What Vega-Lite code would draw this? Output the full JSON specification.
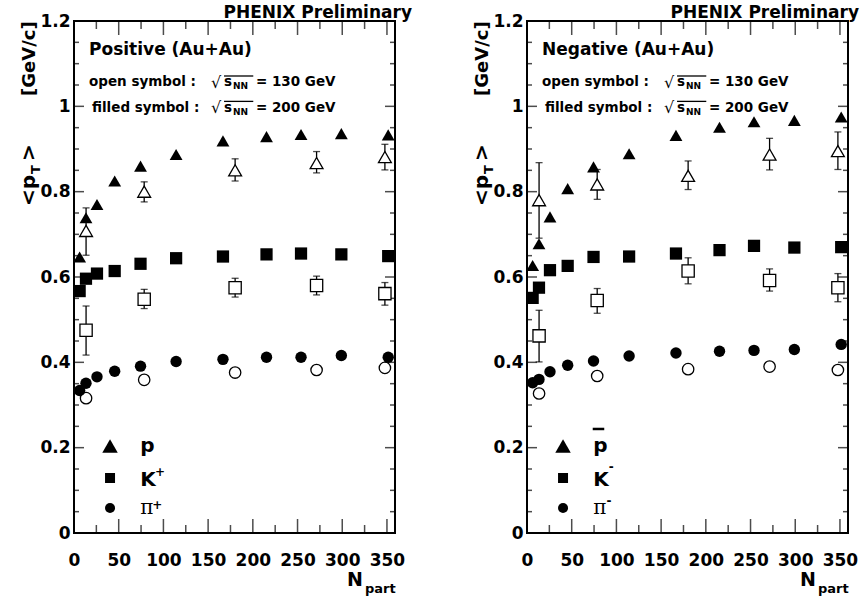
{
  "$schema": "https://vega.github.io/schema/vega-lite/v6.json",
  "padding": {"left": 18, "top": 3, "right": 0, "bottom": 0},
  "autosize": {"type": "pad"},
  "background": "white",
  "config": {
    "view": {"stroke": "black", "strokeWidth": 2},
    "scale": {"continuousPadding": 0},
    "font": "DejaVu Sans",
    "text": {"font": "DejaVu Sans", "fontWeight": "bold", "color": "black"},
    "axis": {"domain": false, "ticks": false, "grid": false, "title": null, "labelOverlap": false, "labelFlush": false, "labelBound": false, "labelColor": "black", "labelFont": "DejaVu Sans", "labelFontWeight": "bold"}
  },
  "datasets": {
    "d": [
      {"c":"pos","s":"p","e":200,"n":6.3,"v":0.647},
      {"c":"pos","s":"p","e":200,"n":13.4,"v":0.739},
      {"c":"pos","s":"p","e":200,"n":25.7,"v":0.770},
      {"c":"pos","s":"p","e":200,"n":45.5,"v":0.825},
      {"c":"pos","s":"p","e":200,"n":74.4,"v":0.860},
      {"c":"pos","s":"p","e":200,"n":114.2,"v":0.887},
      {"c":"pos","s":"p","e":200,"n":166.6,"v":0.919},
      {"c":"pos","s":"p","e":200,"n":215.3,"v":0.929},
      {"c":"pos","s":"p","e":200,"n":253.9,"v":0.934},
      {"c":"pos","s":"p","e":200,"n":299.0,"v":0.936},
      {"c":"pos","s":"p","e":200,"n":351.4,"v":0.933},
      {"c":"pos","s":"K","e":200,"n":6.3,"v":0.567},
      {"c":"pos","s":"K","e":200,"n":13.4,"v":0.596},
      {"c":"pos","s":"K","e":200,"n":25.7,"v":0.608},
      {"c":"pos","s":"K","e":200,"n":45.5,"v":0.614},
      {"c":"pos","s":"K","e":200,"n":74.4,"v":0.631},
      {"c":"pos","s":"K","e":200,"n":114.2,"v":0.644},
      {"c":"pos","s":"K","e":200,"n":166.6,"v":0.648},
      {"c":"pos","s":"K","e":200,"n":215.3,"v":0.653},
      {"c":"pos","s":"K","e":200,"n":253.9,"v":0.655},
      {"c":"pos","s":"K","e":200,"n":299.0,"v":0.653},
      {"c":"pos","s":"K","e":200,"n":351.4,"v":0.649},
      {"c":"pos","s":"pi","e":200,"n":6.3,"v":0.334},
      {"c":"pos","s":"pi","e":200,"n":13.4,"v":0.351},
      {"c":"pos","s":"pi","e":200,"n":25.7,"v":0.366},
      {"c":"pos","s":"pi","e":200,"n":45.5,"v":0.379},
      {"c":"pos","s":"pi","e":200,"n":74.4,"v":0.391},
      {"c":"pos","s":"pi","e":200,"n":114.2,"v":0.402},
      {"c":"pos","s":"pi","e":200,"n":166.6,"v":0.407},
      {"c":"pos","s":"pi","e":200,"n":215.3,"v":0.412},
      {"c":"pos","s":"pi","e":200,"n":253.9,"v":0.412},
      {"c":"pos","s":"pi","e":200,"n":299.0,"v":0.416},
      {"c":"pos","s":"pi","e":200,"n":351.4,"v":0.412},
      {"c":"pos","s":"p","e":130,"n":13.5,"v":0.708,"lo":0.651,"hi":0.762},
      {"c":"pos","s":"p","e":130,"n":78.5,"v":0.800,"lo":0.776,"hi":0.823},
      {"c":"pos","s":"p","e":130,"n":180.2,"v":0.850,"lo":0.825,"hi":0.877},
      {"c":"pos","s":"p","e":130,"n":271.3,"v":0.867,"lo":0.844,"hi":0.894},
      {"c":"pos","s":"p","e":130,"n":347.7,"v":0.881,"lo":0.851,"hi":0.911},
      {"c":"pos","s":"K","e":130,"n":13.5,"v":0.475,"lo":0.417,"hi":0.532},
      {"c":"pos","s":"K","e":130,"n":78.5,"v":0.548,"lo":0.526,"hi":0.571},
      {"c":"pos","s":"K","e":130,"n":180.2,"v":0.575,"lo":0.553,"hi":0.597},
      {"c":"pos","s":"K","e":130,"n":271.3,"v":0.580,"lo":0.558,"hi":0.602},
      {"c":"pos","s":"K","e":130,"n":347.7,"v":0.561,"lo":0.534,"hi":0.587},
      {"c":"pos","s":"pi","e":130,"n":13.5,"v":0.316},
      {"c":"pos","s":"pi","e":130,"n":78.5,"v":0.359},
      {"c":"pos","s":"pi","e":130,"n":180.2,"v":0.376},
      {"c":"pos","s":"pi","e":130,"n":271.3,"v":0.382},
      {"c":"pos","s":"pi","e":130,"n":347.7,"v":0.387},
      {"c":"neg","s":"p","e":200,"n":6.3,"v":0.627},
      {"c":"neg","s":"p","e":200,"n":13.4,"v":0.678},
      {"c":"neg","s":"p","e":200,"n":25.7,"v":0.741},
      {"c":"neg","s":"p","e":200,"n":45.5,"v":0.807},
      {"c":"neg","s":"p","e":200,"n":74.4,"v":0.858},
      {"c":"neg","s":"p","e":200,"n":114.2,"v":0.889},
      {"c":"neg","s":"p","e":200,"n":166.6,"v":0.932},
      {"c":"neg","s":"p","e":200,"n":215.3,"v":0.951},
      {"c":"neg","s":"p","e":200,"n":253.9,"v":0.964},
      {"c":"neg","s":"p","e":200,"n":299.0,"v":0.967},
      {"c":"neg","s":"p","e":200,"n":351.4,"v":0.975},
      {"c":"neg","s":"K","e":200,"n":6.3,"v":0.551},
      {"c":"neg","s":"K","e":200,"n":13.4,"v":0.575},
      {"c":"neg","s":"K","e":200,"n":25.7,"v":0.616},
      {"c":"neg","s":"K","e":200,"n":45.5,"v":0.626},
      {"c":"neg","s":"K","e":200,"n":74.4,"v":0.647},
      {"c":"neg","s":"K","e":200,"n":114.2,"v":0.648},
      {"c":"neg","s":"K","e":200,"n":166.6,"v":0.655},
      {"c":"neg","s":"K","e":200,"n":215.3,"v":0.663},
      {"c":"neg","s":"K","e":200,"n":253.9,"v":0.673},
      {"c":"neg","s":"K","e":200,"n":299.0,"v":0.669},
      {"c":"neg","s":"K","e":200,"n":351.4,"v":0.670},
      {"c":"neg","s":"pi","e":200,"n":6.3,"v":0.352},
      {"c":"neg","s":"pi","e":200,"n":13.4,"v":0.360},
      {"c":"neg","s":"pi","e":200,"n":25.7,"v":0.378},
      {"c":"neg","s":"pi","e":200,"n":45.5,"v":0.393},
      {"c":"neg","s":"pi","e":200,"n":74.4,"v":0.403},
      {"c":"neg","s":"pi","e":200,"n":114.2,"v":0.415},
      {"c":"neg","s":"pi","e":200,"n":166.6,"v":0.422},
      {"c":"neg","s":"pi","e":200,"n":215.3,"v":0.426},
      {"c":"neg","s":"pi","e":200,"n":253.9,"v":0.428},
      {"c":"neg","s":"pi","e":200,"n":299.0,"v":0.430},
      {"c":"neg","s":"pi","e":200,"n":351.4,"v":0.442},
      {"c":"neg","s":"p","e":130,"n":13.5,"v":0.780,"lo":0.691,"hi":0.868},
      {"c":"neg","s":"p","e":130,"n":78.5,"v":0.817,"lo":0.782,"hi":0.852},
      {"c":"neg","s":"p","e":130,"n":180.2,"v":0.837,"lo":0.805,"hi":0.872},
      {"c":"neg","s":"p","e":130,"n":271.3,"v":0.887,"lo":0.851,"hi":0.925},
      {"c":"neg","s":"p","e":130,"n":347.7,"v":0.895,"lo":0.852,"hi":0.940},
      {"c":"neg","s":"K","e":130,"n":13.5,"v":0.462,"lo":0.401,"hi":0.522},
      {"c":"neg","s":"K","e":130,"n":78.5,"v":0.545,"lo":0.515,"hi":0.573},
      {"c":"neg","s":"K","e":130,"n":180.2,"v":0.614,"lo":0.584,"hi":0.645},
      {"c":"neg","s":"K","e":130,"n":271.3,"v":0.592,"lo":0.567,"hi":0.619},
      {"c":"neg","s":"K","e":130,"n":347.7,"v":0.575,"lo":0.542,"hi":0.608},
      {"c":"neg","s":"pi","e":130,"n":13.5,"v":0.327},
      {"c":"neg","s":"pi","e":130,"n":78.5,"v":0.368},
      {"c":"neg","s":"pi","e":130,"n":180.2,"v":0.384},
      {"c":"neg","s":"pi","e":130,"n":271.3,"v":0.390},
      {"c":"neg","s":"pi","e":130,"n":347.7,"v":0.382}
    ],
    "xmaj": [{"t":50},{"t":100},{"t":150},{"t":200},{"t":250},{"t":300},{"t":350}],
    "xmin": [{"t":25},{"t":75},{"t":125},{"t":175},{"t":225},{"t":275},{"t":325}],
    "ymaj": [{"t":0.2},{"t":0.4},{"t":0.6},{"t":0.8},{"t":1.0}],
    "ymin": [{"t":0.05},{"t":0.1},{"t":0.15},{"t":0.25},{"t":0.3},{"t":0.35},{"t":0.45},{"t":0.5},{"t":0.55},{"t":0.65},{"t":0.7},{"t":0.75},{"t":0.85},{"t":0.9},{"t":0.95},{"t":1.05},{"t":1.1},{"t":1.15}]
  },
  "spacing": 132,
  "bounds": "flush",
  "resolve": {"scale": {"x": "independent", "y": "independent", "shape": "independent", "size": "independent"}},
  "hconcat": [
    {
      "width": 321, "height": 512,
      "data": {"name": "d"},
      "resolve": {"axis": {"x": "independent", "y": "independent"}},
      "layer": [
        {
          "transform": [{"filter": "datum.c === 'pos' && datum.e === 130 && isValid(datum.lo)"}],
          "mark": {"type": "rule", "color": "black", "strokeWidth": 1.3},
          "encoding": {
            "x": {"field": "n", "type": "quantitative", "scale": {"domain": [0, 359], "nice": false, "zero": false},
              "axis": {"orient": "bottom", "values": [0,50,100,150,200,250,300,350], "labelFontSize": 17, "labelPadding": 19}},
            "y": {"field": "lo", "type": "quantitative", "scale": {"domain": [0, 1.2], "nice": false, "zero": false},
              "axis": {"orient": "left", "values": [0,0.2,0.4,0.6,0.8,1,1.2], "labelExpr": "format(datum.value, '.1~f')", "labelFontSize": 17, "labelPadding": 4}},
            "y2": {"field": "hi"}
          }
        },
        {"data": {"name": "xmaj"}, "mark": {"type": "tick", "orient": "vertical", "size": 14, "thickness": 1.5, "color": "black", "yOffset": -7},
          "encoding": {"x": {"field": "t", "type": "quantitative", "scale": {"domain": [0, 359], "nice": false, "zero": false}, "axis": null}, "y": {"datum": 0, "type": "quantitative", "scale": {"domain": [0, 1.2], "nice": false, "zero": false}, "axis": null}}},
        {"data": {"name": "xmaj"}, "mark": {"type": "tick", "orient": "vertical", "size": 14, "thickness": 1.5, "color": "black", "yOffset": 7},
          "encoding": {"x": {"field": "t", "type": "quantitative", "scale": {"domain": [0, 359], "nice": false, "zero": false}, "axis": null}, "y": {"datum": 1.2, "type": "quantitative", "scale": {"domain": [0, 1.2], "nice": false, "zero": false}, "axis": null}}},
        {"data": {"name": "xmin"}, "mark": {"type": "tick", "orient": "vertical", "size": 8, "thickness": 1.5, "color": "black", "yOffset": -4},
          "encoding": {"x": {"field": "t", "type": "quantitative", "scale": {"domain": [0, 359], "nice": false, "zero": false}, "axis": null}, "y": {"datum": 0, "type": "quantitative", "scale": {"domain": [0, 1.2], "nice": false, "zero": false}, "axis": null}}},
        {"data": {"name": "xmin"}, "mark": {"type": "tick", "orient": "vertical", "size": 8, "thickness": 1.5, "color": "black", "yOffset": 4},
          "encoding": {"x": {"field": "t", "type": "quantitative", "scale": {"domain": [0, 359], "nice": false, "zero": false}, "axis": null}, "y": {"datum": 1.2, "type": "quantitative", "scale": {"domain": [0, 1.2], "nice": false, "zero": false}, "axis": null}}},
        {"data": {"name": "ymaj"}, "mark": {"type": "tick", "orient": "horizontal", "size": 10, "thickness": 1.5, "color": "black", "xOffset": 5},
          "encoding": {"y": {"field": "t", "type": "quantitative", "scale": {"domain": [0, 1.2], "nice": false, "zero": false}, "axis": null}, "x": {"datum": 0, "type": "quantitative", "scale": {"domain": [0, 359], "nice": false, "zero": false}, "axis": null}}},
        {"data": {"name": "ymaj"}, "mark": {"type": "tick", "orient": "horizontal", "size": 10, "thickness": 1.5, "color": "black", "xOffset": -5},
          "encoding": {"y": {"field": "t", "type": "quantitative", "scale": {"domain": [0, 1.2], "nice": false, "zero": false}, "axis": null}, "x": {"datum": 359, "type": "quantitative", "scale": {"domain": [0, 359], "nice": false, "zero": false}, "axis": null}}},
        {"data": {"name": "ymin"}, "mark": {"type": "tick", "orient": "horizontal", "size": 5, "thickness": 1.5, "color": "black", "xOffset": 2.5},
          "encoding": {"y": {"field": "t", "type": "quantitative", "scale": {"domain": [0, 1.2], "nice": false, "zero": false}, "axis": null}, "x": {"datum": 0, "type": "quantitative", "scale": {"domain": [0, 359], "nice": false, "zero": false}, "axis": null}}},
        {"data": {"name": "ymin"}, "mark": {"type": "tick", "orient": "horizontal", "size": 5, "thickness": 1.5, "color": "black", "xOffset": -2.5},
          "encoding": {"y": {"field": "t", "type": "quantitative", "scale": {"domain": [0, 1.2], "nice": false, "zero": false}, "axis": null}, "x": {"datum": 359, "type": "quantitative", "scale": {"domain": [0, 359], "nice": false, "zero": false}, "axis": null}}},
        {
          "transform": [{"filter": "datum.c === 'pos' && datum.e === 130 && isValid(datum.hi)"}],
          "mark": {"type": "tick", "orient": "horizontal", "size": 7, "thickness": 1.3, "color": "black"},
          "encoding": {
            "x": {"field": "n", "type": "quantitative", "scale": {"domain": [0, 359], "nice": false, "zero": false}, "axis": null},
            "y": {"field": "hi", "type": "quantitative", "scale": {"domain": [0, 1.2], "nice": false, "zero": false}, "axis": null}
          }
        },
        {
          "transform": [{"filter": "datum.c === 'pos' && datum.e === 130 && isValid(datum.lo)"}],
          "mark": {"type": "tick", "orient": "horizontal", "size": 7, "thickness": 1.3, "color": "black"},
          "encoding": {
            "x": {"field": "n", "type": "quantitative", "scale": {"domain": [0, 359], "nice": false, "zero": false}, "axis": null},
            "y": {"field": "lo", "type": "quantitative", "scale": {"domain": [0, 1.2], "nice": false, "zero": false}, "axis": null}
          }
        },
        {
          "transform": [{"filter": "datum.c === 'pos' && datum.e === 130"}],
          "mark": {"type": "point", "filled": true, "fill": "white", "stroke": "black", "strokeWidth": 1.3, "opacity": 1},
          "encoding": {
            "x": {"field": "n", "type": "quantitative", "scale": {"domain": [0, 359], "nice": false, "zero": false}, "axis": null},
            "y": {"field": "v", "type": "quantitative", "scale": {"domain": [0, 1.2], "nice": false, "zero": false}, "axis": null},
            "shape": {"field": "s", "type": "nominal", "scale": {"domain": ["p", "K", "pi"], "range": ["triangle-up", "square", "circle"]}, "legend": null},
            "size": {"field": "s", "type": "nominal", "scale": {"type": "ordinal", "domain": ["p", "K", "pi"], "range": [165, 150, 130]}, "legend": null}
          }
        },
        {
          "transform": [{"filter": "datum.c === 'pos' && datum.e === 200"}],
          "mark": {"type": "point", "filled": true, "fill": "black", "strokeWidth": 0, "opacity": 1},
          "encoding": {
            "x": {"field": "n", "type": "quantitative", "scale": {"domain": [0, 359], "nice": false, "zero": false}, "axis": null},
            "y": {"field": "v", "type": "quantitative", "scale": {"domain": [0, 1.2], "nice": false, "zero": false}, "axis": null},
            "shape": {"field": "s", "type": "nominal", "scale": {"domain": ["p", "K", "pi"], "range": ["triangle-up", "square", "circle"]}, "legend": null},
            "size": {"field": "s", "type": "nominal", "scale": {"type": "ordinal", "domain": ["p", "K", "pi"], "range": [165, 150, 130]}, "legend": null}
          }
        },
        {"data": {"values": [{}]}, "mark": {"type": "point", "shape": "triangle-up", "size": 240, "filled": true, "color": "black", "opacity": 1},
          "encoding": {"x": {"datum": 40.3, "type": "quantitative", "scale": {"domain": [0, 359], "nice": false, "zero": false}, "axis": null}, "y": {"datum": 0.2039, "type": "quantitative", "scale": {"domain": [0, 1.2], "nice": false, "zero": false}, "axis": null}}},
        {"data": {"values": [{}]}, "mark": {"type": "point", "shape": "square", "size": 100, "filled": true, "color": "black", "opacity": 1},
          "encoding": {"x": {"datum": 40.3, "type": "quantitative", "scale": {"domain": [0, 359], "nice": false, "zero": false}, "axis": null}, "y": {"datum": 0.1289, "type": "quantitative", "scale": {"domain": [0, 1.2], "nice": false, "zero": false}, "axis": null}}},
        {"data": {"values": [{}]}, "mark": {"type": "point", "shape": "circle", "size": 100, "filled": true, "color": "black", "opacity": 1},
          "encoding": {"x": {"datum": 40.3, "type": "quantitative", "scale": {"domain": [0, 359], "nice": false, "zero": false}, "axis": null}, "y": {"datum": 0.0586, "type": "quantitative", "scale": {"domain": [0, 1.2], "nice": false, "zero": false}, "axis": null}}},
        {"data": {"values": [{}]}, "mark": {"type": "text", "text": "p", "align": "left", "baseline": "alphabetic", "fontSize": 20},
          "encoding": {"x": {"datum": 74.2, "type": "quantitative", "scale": {"domain": [0, 359], "nice": false, "zero": false}, "axis": null}, "y": {"datum": 0.1906, "type": "quantitative", "scale": {"domain": [0, 1.2], "nice": false, "zero": false}, "axis": null}}},
        {"data": {"values": [{}]}, "mark": {"type": "text", "text": "K", "align": "left", "baseline": "alphabetic", "fontSize": 20},
          "encoding": {"x": {"datum": 74.2, "type": "quantitative", "scale": {"domain": [0, 359], "nice": false, "zero": false}, "axis": null}, "y": {"datum": 0.1102, "type": "quantitative", "scale": {"domain": [0, 1.2], "nice": false, "zero": false}, "axis": null}}},
        {"data": {"values": [{}]}, "mark": {"type": "text", "text": "+", "align": "left", "baseline": "alphabetic", "fontSize": 12},
          "encoding": {"x": {"datum": 90.6, "type": "quantitative", "scale": {"domain": [0, 359], "nice": false, "zero": false}, "axis": null}, "y": {"datum": 0.1343, "type": "quantitative", "scale": {"domain": [0, 1.2], "nice": false, "zero": false}, "axis": null}}},
        {"data": {"values": [{}]}, "mark": {"type": "text", "text": "π", "align": "left", "baseline": "alphabetic", "fontSize": 20, "font": "DejaVu Serif", "fontWeight": "normal"},
          "encoding": {"x": {"datum": 74.2, "type": "quantitative", "scale": {"domain": [0, 359], "nice": false, "zero": false}, "axis": null}, "y": {"datum": 0.0438, "type": "quantitative", "scale": {"domain": [0, 1.2], "nice": false, "zero": false}, "axis": null}}},
        {"data": {"values": [{}]}, "mark": {"type": "text", "text": "+", "align": "left", "baseline": "alphabetic", "fontSize": 12},
          "encoding": {"x": {"datum": 87.5, "type": "quantitative", "scale": {"domain": [0, 359], "nice": false, "zero": false}, "axis": null}, "y": {"datum": 0.0572, "type": "quantitative", "scale": {"domain": [0, 1.2], "nice": false, "zero": false}, "axis": null}}},
        {"data": {"values": [{}]}, "mark": {"type": "text", "text": "PHENIX Preliminary", "align": "right", "baseline": "alphabetic", "fontSize": 17},
          "encoding": {"x": {"datum": 378.0, "type": "quantitative", "scale": {"domain": [0, 359], "nice": false, "zero": false}, "axis": null}, "y": {"datum": 1.207, "type": "quantitative", "scale": {"domain": [0, 1.2], "nice": false, "zero": false}, "axis": null}}},
        {"data": {"values": [{}]}, "mark": {"type": "text", "text": "Positive (Au+Au)", "align": "left", "baseline": "alphabetic", "fontSize": 17},
          "encoding": {"x": {"datum": 16.8, "type": "quantitative", "scale": {"domain": [0, 359], "nice": false, "zero": false}, "axis": null}, "y": {"datum": 1.1196, "type": "quantitative", "scale": {"domain": [0, 1.2], "nice": false, "zero": false}, "axis": null}}},
        {"data": {"values": [{}]}, "mark": {"type": "text", "text": "open symbol :", "align": "left", "baseline": "alphabetic", "fontSize": 13.5},
          "encoding": {"x": {"datum": 16.8, "type": "quantitative", "scale": {"domain": [0, 359], "nice": false, "zero": false}, "axis": null}, "y": {"datum": 1.047, "type": "quantitative", "scale": {"domain": [0, 1.2], "nice": false, "zero": false}, "axis": null}}},
        {"data": {"values": [{}]}, "mark": {"type": "text", "text": "filled symbol :", "align": "left", "baseline": "alphabetic", "fontSize": 13.5},
          "encoding": {"x": {"datum": 20.1, "type": "quantitative", "scale": {"domain": [0, 359], "nice": false, "zero": false}, "axis": null}, "y": {"datum": 0.9874, "type": "quantitative", "scale": {"domain": [0, 1.2], "nice": false, "zero": false}, "axis": null}}},
        {"data": {"values": [{}]}, "mark": {"type": "text", "text": "√", "align": "left", "baseline": "alphabetic", "fontSize": 16, "fontWeight": "normal"},
          "encoding": {"x": {"datum": 153.2, "type": "quantitative", "scale": {"domain": [0, 359], "nice": false, "zero": false}, "axis": null}, "y": {"datum": 1.043, "type": "quantitative", "scale": {"domain": [0, 1.2], "nice": false, "zero": false}, "axis": null}}},
        {"data": {"values": [{}]}, "mark": {"type": "text", "text": "s", "align": "left", "baseline": "alphabetic", "fontSize": 13.5},
          "encoding": {"x": {"datum": 167.8, "type": "quantitative", "scale": {"domain": [0, 359], "nice": false, "zero": false}, "axis": null}, "y": {"datum": 1.047, "type": "quantitative", "scale": {"domain": [0, 1.2], "nice": false, "zero": false}, "axis": null}}},
        {"data": {"values": [{}]}, "mark": {"type": "text", "text": "NN", "align": "left", "baseline": "alphabetic", "fontSize": 9},
          "encoding": {"x": {"datum": 177.8, "type": "quantitative", "scale": {"domain": [0, 359], "nice": false, "zero": false}, "axis": null}, "y": {"datum": 1.0395, "type": "quantitative", "scale": {"domain": [0, 1.2], "nice": false, "zero": false}, "axis": null}}},
        {"data": {"values": [{}]}, "mark": {"type": "text", "text": "= 130 GeV", "align": "left", "baseline": "alphabetic", "fontSize": 13.5},
          "encoding": {"x": {"datum": 203.5, "type": "quantitative", "scale": {"domain": [0, 359], "nice": false, "zero": false}, "axis": null}, "y": {"datum": 1.047, "type": "quantitative", "scale": {"domain": [0, 1.2], "nice": false, "zero": false}, "axis": null}}},
        {"data": {"values": [{}]}, "mark": {"type": "rule", "color": "black", "strokeWidth": 1.3},
          "encoding": {"x": {"datum": 167.8, "type": "quantitative", "scale": {"domain": [0, 359], "nice": false, "zero": false}, "axis": null}, "x2": {"datum": 200.5}, "y": {"datum": 1.0711, "type": "quantitative", "scale": {"domain": [0, 1.2], "nice": false, "zero": false}, "axis": null}}},
        {"data": {"values": [{}]}, "mark": {"type": "text", "text": "√", "align": "left", "baseline": "alphabetic", "fontSize": 16, "fontWeight": "normal"},
          "encoding": {"x": {"datum": 153.2, "type": "quantitative", "scale": {"domain": [0, 359], "nice": false, "zero": false}, "axis": null}, "y": {"datum": 0.9835, "type": "quantitative", "scale": {"domain": [0, 1.2], "nice": false, "zero": false}, "axis": null}}},
        {"data": {"values": [{}]}, "mark": {"type": "text", "text": "s", "align": "left", "baseline": "alphabetic", "fontSize": 13.5},
          "encoding": {"x": {"datum": 167.8, "type": "quantitative", "scale": {"domain": [0, 359], "nice": false, "zero": false}, "axis": null}, "y": {"datum": 0.9874, "type": "quantitative", "scale": {"domain": [0, 1.2], "nice": false, "zero": false}, "axis": null}}},
        {"data": {"values": [{}]}, "mark": {"type": "text", "text": "NN", "align": "left", "baseline": "alphabetic", "fontSize": 9},
          "encoding": {"x": {"datum": 177.8, "type": "quantitative", "scale": {"domain": [0, 359], "nice": false, "zero": false}, "axis": null}, "y": {"datum": 0.98, "type": "quantitative", "scale": {"domain": [0, 1.2], "nice": false, "zero": false}, "axis": null}}},
        {"data": {"values": [{}]}, "mark": {"type": "text", "text": "= 200 GeV", "align": "left", "baseline": "alphabetic", "fontSize": 13.5},
          "encoding": {"x": {"datum": 203.5, "type": "quantitative", "scale": {"domain": [0, 359], "nice": false, "zero": false}, "axis": null}, "y": {"datum": 0.9874, "type": "quantitative", "scale": {"domain": [0, 1.2], "nice": false, "zero": false}, "axis": null}}},
        {"data": {"values": [{}]}, "mark": {"type": "rule", "color": "black", "strokeWidth": 1.3},
          "encoding": {"x": {"datum": 167.8, "type": "quantitative", "scale": {"domain": [0, 359], "nice": false, "zero": false}, "axis": null}, "x2": {"datum": 200.5}, "y": {"datum": 1.0116, "type": "quantitative", "scale": {"domain": [0, 1.2], "nice": false, "zero": false}, "axis": null}}},
        {"data": {"values": [{}]}, "mark": {"type": "text", "text": "<p", "align": "left", "baseline": "alphabetic", "fontSize": 20, "angle": 270},
          "encoding": {"x": {"datum": -43.6, "type": "quantitative", "scale": {"domain": [0, 359], "nice": false, "zero": false}, "axis": null}, "y": {"datum": 0.7664, "type": "quantitative", "scale": {"domain": [0, 1.2], "nice": false, "zero": false}, "axis": null}}},
        {"data": {"values": [{}]}, "mark": {"type": "text", "text": "T", "align": "left", "baseline": "alphabetic", "fontSize": 13, "angle": 270},
          "encoding": {"x": {"datum": -38.0, "type": "quantitative", "scale": {"domain": [0, 359], "nice": false, "zero": false}, "axis": null}, "y": {"datum": 0.8414, "type": "quantitative", "scale": {"domain": [0, 1.2], "nice": false, "zero": false}, "axis": null}}},
        {"data": {"values": [{}]}, "mark": {"type": "text", "text": ">", "align": "left", "baseline": "alphabetic", "fontSize": 20, "angle": 270},
          "encoding": {"x": {"datum": -43.6, "type": "quantitative", "scale": {"domain": [0, 359], "nice": false, "zero": false}, "axis": null}, "y": {"datum": 0.8719, "type": "quantitative", "scale": {"domain": [0, 1.2], "nice": false, "zero": false}, "axis": null}}},
        {"data": {"values": [{}]}, "mark": {"type": "text", "text": "[GeV/c]", "align": "left", "baseline": "alphabetic", "fontSize": 18, "angle": 270},
          "encoding": {"x": {"datum": -43.6, "type": "quantitative", "scale": {"domain": [0, 359], "nice": false, "zero": false}, "axis": null}, "y": {"datum": 1.0242, "type": "quantitative", "scale": {"domain": [0, 1.2], "nice": false, "zero": false}, "axis": null}}},
        {"data": {"values": [{}]}, "mark": {"type": "text", "text": "N", "align": "left", "baseline": "alphabetic", "fontSize": 19},
          "encoding": {"x": {"datum": 305.3, "type": "quantitative", "scale": {"domain": [0, 359], "nice": false, "zero": false}, "axis": null}, "y": {"datum": -0.1242, "type": "quantitative", "scale": {"domain": [0, 1.2], "nice": false, "zero": false}, "axis": null}}},
        {"data": {"values": [{}]}, "mark": {"type": "text", "text": "part", "align": "left", "baseline": "alphabetic", "fontSize": 13},
          "encoding": {"x": {"datum": 325.4, "type": "quantitative", "scale": {"domain": [0, 359], "nice": false, "zero": false}, "axis": null}, "y": {"datum": -0.1399, "type": "quantitative", "scale": {"domain": [0, 1.2], "nice": false, "zero": false}, "axis": null}}}
      ]
    },
    {
      "width": 321, "height": 512,
      "data": {"name": "d"},
      "resolve": {"axis": {"x": "independent", "y": "independent"}},
      "layer": [
        {
          "transform": [{"filter": "datum.c === 'neg' && datum.e === 130 && isValid(datum.lo)"}],
          "mark": {"type": "rule", "color": "black", "strokeWidth": 1.3},
          "encoding": {
            "x": {"field": "n", "type": "quantitative", "scale": {"domain": [0, 359], "nice": false, "zero": false},
              "axis": {"orient": "bottom", "values": [0,50,100,150,200,250,300,350], "labelFontSize": 17, "labelPadding": 19}},
            "y": {"field": "lo", "type": "quantitative", "scale": {"domain": [0, 1.2], "nice": false, "zero": false},
              "axis": {"orient": "left", "values": [0,0.2,0.4,0.6,0.8,1,1.2], "labelExpr": "format(datum.value, '.1~f')", "labelFontSize": 17, "labelPadding": 4}},
            "y2": {"field": "hi"}
          }
        },
        {"data": {"name": "xmaj"}, "mark": {"type": "tick", "orient": "vertical", "size": 14, "thickness": 1.5, "color": "black", "yOffset": -7},
          "encoding": {"x": {"field": "t", "type": "quantitative", "scale": {"domain": [0, 359], "nice": false, "zero": false}, "axis": null}, "y": {"datum": 0, "type": "quantitative", "scale": {"domain": [0, 1.2], "nice": false, "zero": false}, "axis": null}}},
        {"data": {"name": "xmaj"}, "mark": {"type": "tick", "orient": "vertical", "size": 14, "thickness": 1.5, "color": "black", "yOffset": 7},
          "encoding": {"x": {"field": "t", "type": "quantitative", "scale": {"domain": [0, 359], "nice": false, "zero": false}, "axis": null}, "y": {"datum": 1.2, "type": "quantitative", "scale": {"domain": [0, 1.2], "nice": false, "zero": false}, "axis": null}}},
        {"data": {"name": "xmin"}, "mark": {"type": "tick", "orient": "vertical", "size": 8, "thickness": 1.5, "color": "black", "yOffset": -4},
          "encoding": {"x": {"field": "t", "type": "quantitative", "scale": {"domain": [0, 359], "nice": false, "zero": false}, "axis": null}, "y": {"datum": 0, "type": "quantitative", "scale": {"domain": [0, 1.2], "nice": false, "zero": false}, "axis": null}}},
        {"data": {"name": "xmin"}, "mark": {"type": "tick", "orient": "vertical", "size": 8, "thickness": 1.5, "color": "black", "yOffset": 4},
          "encoding": {"x": {"field": "t", "type": "quantitative", "scale": {"domain": [0, 359], "nice": false, "zero": false}, "axis": null}, "y": {"datum": 1.2, "type": "quantitative", "scale": {"domain": [0, 1.2], "nice": false, "zero": false}, "axis": null}}},
        {"data": {"name": "ymaj"}, "mark": {"type": "tick", "orient": "horizontal", "size": 10, "thickness": 1.5, "color": "black", "xOffset": 5},
          "encoding": {"y": {"field": "t", "type": "quantitative", "scale": {"domain": [0, 1.2], "nice": false, "zero": false}, "axis": null}, "x": {"datum": 0, "type": "quantitative", "scale": {"domain": [0, 359], "nice": false, "zero": false}, "axis": null}}},
        {"data": {"name": "ymaj"}, "mark": {"type": "tick", "orient": "horizontal", "size": 10, "thickness": 1.5, "color": "black", "xOffset": -5},
          "encoding": {"y": {"field": "t", "type": "quantitative", "scale": {"domain": [0, 1.2], "nice": false, "zero": false}, "axis": null}, "x": {"datum": 359, "type": "quantitative", "scale": {"domain": [0, 359], "nice": false, "zero": false}, "axis": null}}},
        {"data": {"name": "ymin"}, "mark": {"type": "tick", "orient": "horizontal", "size": 5, "thickness": 1.5, "color": "black", "xOffset": 2.5},
          "encoding": {"y": {"field": "t", "type": "quantitative", "scale": {"domain": [0, 1.2], "nice": false, "zero": false}, "axis": null}, "x": {"datum": 0, "type": "quantitative", "scale": {"domain": [0, 359], "nice": false, "zero": false}, "axis": null}}},
        {"data": {"name": "ymin"}, "mark": {"type": "tick", "orient": "horizontal", "size": 5, "thickness": 1.5, "color": "black", "xOffset": -2.5},
          "encoding": {"y": {"field": "t", "type": "quantitative", "scale": {"domain": [0, 1.2], "nice": false, "zero": false}, "axis": null}, "x": {"datum": 359, "type": "quantitative", "scale": {"domain": [0, 359], "nice": false, "zero": false}, "axis": null}}},
        {
          "transform": [{"filter": "datum.c === 'neg' && datum.e === 130 && isValid(datum.hi)"}],
          "mark": {"type": "tick", "orient": "horizontal", "size": 7, "thickness": 1.3, "color": "black"},
          "encoding": {
            "x": {"field": "n", "type": "quantitative", "scale": {"domain": [0, 359], "nice": false, "zero": false}, "axis": null},
            "y": {"field": "hi", "type": "quantitative", "scale": {"domain": [0, 1.2], "nice": false, "zero": false}, "axis": null}
          }
        },
        {
          "transform": [{"filter": "datum.c === 'neg' && datum.e === 130 && isValid(datum.lo)"}],
          "mark": {"type": "tick", "orient": "horizontal", "size": 7, "thickness": 1.3, "color": "black"},
          "encoding": {
            "x": {"field": "n", "type": "quantitative", "scale": {"domain": [0, 359], "nice": false, "zero": false}, "axis": null},
            "y": {"field": "lo", "type": "quantitative", "scale": {"domain": [0, 1.2], "nice": false, "zero": false}, "axis": null}
          }
        },
        {
          "transform": [{"filter": "datum.c === 'neg' && datum.e === 130"}],
          "mark": {"type": "point", "filled": true, "fill": "white", "stroke": "black", "strokeWidth": 1.3, "opacity": 1},
          "encoding": {
            "x": {"field": "n", "type": "quantitative", "scale": {"domain": [0, 359], "nice": false, "zero": false}, "axis": null},
            "y": {"field": "v", "type": "quantitative", "scale": {"domain": [0, 1.2], "nice": false, "zero": false}, "axis": null},
            "shape": {"field": "s", "type": "nominal", "scale": {"domain": ["p", "K", "pi"], "range": ["triangle-up", "square", "circle"]}, "legend": null},
            "size": {"field": "s", "type": "nominal", "scale": {"type": "ordinal", "domain": ["p", "K", "pi"], "range": [165, 150, 130]}, "legend": null}
          }
        },
        {
          "transform": [{"filter": "datum.c === 'neg' && datum.e === 200"}],
          "mark": {"type": "point", "filled": true, "fill": "black", "strokeWidth": 0, "opacity": 1},
          "encoding": {
            "x": {"field": "n", "type": "quantitative", "scale": {"domain": [0, 359], "nice": false, "zero": false}, "axis": null},
            "y": {"field": "v", "type": "quantitative", "scale": {"domain": [0, 1.2], "nice": false, "zero": false}, "axis": null},
            "shape": {"field": "s", "type": "nominal", "scale": {"domain": ["p", "K", "pi"], "range": ["triangle-up", "square", "circle"]}, "legend": null},
            "size": {"field": "s", "type": "nominal", "scale": {"type": "ordinal", "domain": ["p", "K", "pi"], "range": [165, 150, 130]}, "legend": null}
          }
        },
        {"data": {"values": [{}]}, "mark": {"type": "point", "shape": "triangle-up", "size": 240, "filled": true, "color": "black", "opacity": 1},
          "encoding": {"x": {"datum": 40.3, "type": "quantitative", "scale": {"domain": [0, 359], "nice": false, "zero": false}, "axis": null}, "y": {"datum": 0.2039, "type": "quantitative", "scale": {"domain": [0, 1.2], "nice": false, "zero": false}, "axis": null}}},
        {"data": {"values": [{}]}, "mark": {"type": "point", "shape": "square", "size": 100, "filled": true, "color": "black", "opacity": 1},
          "encoding": {"x": {"datum": 40.3, "type": "quantitative", "scale": {"domain": [0, 359], "nice": false, "zero": false}, "axis": null}, "y": {"datum": 0.1289, "type": "quantitative", "scale": {"domain": [0, 1.2], "nice": false, "zero": false}, "axis": null}}},
        {"data": {"values": [{}]}, "mark": {"type": "point", "shape": "circle", "size": 100, "filled": true, "color": "black", "opacity": 1},
          "encoding": {"x": {"datum": 40.3, "type": "quantitative", "scale": {"domain": [0, 359], "nice": false, "zero": false}, "axis": null}, "y": {"datum": 0.0586, "type": "quantitative", "scale": {"domain": [0, 1.2], "nice": false, "zero": false}, "axis": null}}},
        {"data": {"values": [{}]}, "mark": {"type": "text", "text": "p", "align": "left", "baseline": "alphabetic", "fontSize": 20},
          "encoding": {"x": {"datum": 74.2, "type": "quantitative", "scale": {"domain": [0, 359], "nice": false, "zero": false}, "axis": null}, "y": {"datum": 0.1906, "type": "quantitative", "scale": {"domain": [0, 1.2], "nice": false, "zero": false}, "axis": null}}},
        {"data": {"values": [{}]}, "mark": {"type": "rule", "color": "black", "strokeWidth": 2.5},
          "encoding": {"x": {"datum": 73.5, "type": "quantitative", "scale": {"domain": [0, 359], "nice": false, "zero": false}, "axis": null}, "x2": {"datum": 86.4}, "y": {"datum": 0.2438, "type": "quantitative", "scale": {"domain": [0, 1.2], "nice": false, "zero": false}, "axis": null}}},
        {"data": {"values": [{}]}, "mark": {"type": "text", "text": "K", "align": "left", "baseline": "alphabetic", "fontSize": 20},
          "encoding": {"x": {"datum": 74.2, "type": "quantitative", "scale": {"domain": [0, 359], "nice": false, "zero": false}, "axis": null}, "y": {"datum": 0.1102, "type": "quantitative", "scale": {"domain": [0, 1.2], "nice": false, "zero": false}, "axis": null}}},
        {"data": {"values": [{}]}, "mark": {"type": "text", "text": "-", "align": "left", "baseline": "alphabetic", "fontSize": 12},
          "encoding": {"x": {"datum": 91.5, "type": "quantitative", "scale": {"domain": [0, 359], "nice": false, "zero": false}, "axis": null}, "y": {"datum": 0.1446, "type": "quantitative", "scale": {"domain": [0, 1.2], "nice": false, "zero": false}, "axis": null}}},
        {"data": {"values": [{}]}, "mark": {"type": "text", "text": "π", "align": "left", "baseline": "alphabetic", "fontSize": 20, "font": "DejaVu Serif", "fontWeight": "normal"},
          "encoding": {"x": {"datum": 74.2, "type": "quantitative", "scale": {"domain": [0, 359], "nice": false, "zero": false}, "axis": null}, "y": {"datum": 0.0438, "type": "quantitative", "scale": {"domain": [0, 1.2], "nice": false, "zero": false}, "axis": null}}},
        {"data": {"values": [{}]}, "mark": {"type": "text", "text": "-", "align": "left", "baseline": "alphabetic", "fontSize": 12},
          "encoding": {"x": {"datum": 89.0, "type": "quantitative", "scale": {"domain": [0, 359], "nice": false, "zero": false}, "axis": null}, "y": {"datum": 0.0666, "type": "quantitative", "scale": {"domain": [0, 1.2], "nice": false, "zero": false}, "axis": null}}},
        {"data": {"values": [{}]}, "mark": {"type": "text", "text": "PHENIX Preliminary", "align": "right", "baseline": "alphabetic", "fontSize": 17},
          "encoding": {"x": {"datum": 371.3, "type": "quantitative", "scale": {"domain": [0, 359], "nice": false, "zero": false}, "axis": null}, "y": {"datum": 1.207, "type": "quantitative", "scale": {"domain": [0, 1.2], "nice": false, "zero": false}, "axis": null}}},
        {"data": {"values": [{}]}, "mark": {"type": "text", "text": "Negative (Au+Au)", "align": "left", "baseline": "alphabetic", "fontSize": 17},
          "encoding": {"x": {"datum": 16.8, "type": "quantitative", "scale": {"domain": [0, 359], "nice": false, "zero": false}, "axis": null}, "y": {"datum": 1.1196, "type": "quantitative", "scale": {"domain": [0, 1.2], "nice": false, "zero": false}, "axis": null}}},
        {"data": {"values": [{}]}, "mark": {"type": "text", "text": "open symbol :", "align": "left", "baseline": "alphabetic", "fontSize": 13.5},
          "encoding": {"x": {"datum": 16.8, "type": "quantitative", "scale": {"domain": [0, 359], "nice": false, "zero": false}, "axis": null}, "y": {"datum": 1.047, "type": "quantitative", "scale": {"domain": [0, 1.2], "nice": false, "zero": false}, "axis": null}}},
        {"data": {"values": [{}]}, "mark": {"type": "text", "text": "filled symbol :", "align": "left", "baseline": "alphabetic", "fontSize": 13.5},
          "encoding": {"x": {"datum": 20.1, "type": "quantitative", "scale": {"domain": [0, 359], "nice": false, "zero": false}, "axis": null}, "y": {"datum": 0.9874, "type": "quantitative", "scale": {"domain": [0, 1.2], "nice": false, "zero": false}, "axis": null}}},
        {"data": {"values": [{}]}, "mark": {"type": "text", "text": "√", "align": "left", "baseline": "alphabetic", "fontSize": 16, "fontWeight": "normal"},
          "encoding": {"x": {"datum": 153.2, "type": "quantitative", "scale": {"domain": [0, 359], "nice": false, "zero": false}, "axis": null}, "y": {"datum": 1.043, "type": "quantitative", "scale": {"domain": [0, 1.2], "nice": false, "zero": false}, "axis": null}}},
        {"data": {"values": [{}]}, "mark": {"type": "text", "text": "s", "align": "left", "baseline": "alphabetic", "fontSize": 13.5},
          "encoding": {"x": {"datum": 167.8, "type": "quantitative", "scale": {"domain": [0, 359], "nice": false, "zero": false}, "axis": null}, "y": {"datum": 1.047, "type": "quantitative", "scale": {"domain": [0, 1.2], "nice": false, "zero": false}, "axis": null}}},
        {"data": {"values": [{}]}, "mark": {"type": "text", "text": "NN", "align": "left", "baseline": "alphabetic", "fontSize": 9},
          "encoding": {"x": {"datum": 177.8, "type": "quantitative", "scale": {"domain": [0, 359], "nice": false, "zero": false}, "axis": null}, "y": {"datum": 1.0395, "type": "quantitative", "scale": {"domain": [0, 1.2], "nice": false, "zero": false}, "axis": null}}},
        {"data": {"values": [{}]}, "mark": {"type": "text", "text": "= 130 GeV", "align": "left", "baseline": "alphabetic", "fontSize": 13.5},
          "encoding": {"x": {"datum": 203.5, "type": "quantitative", "scale": {"domain": [0, 359], "nice": false, "zero": false}, "axis": null}, "y": {"datum": 1.047, "type": "quantitative", "scale": {"domain": [0, 1.2], "nice": false, "zero": false}, "axis": null}}},
        {"data": {"values": [{}]}, "mark": {"type": "rule", "color": "black", "strokeWidth": 1.3},
          "encoding": {"x": {"datum": 167.8, "type": "quantitative", "scale": {"domain": [0, 359], "nice": false, "zero": false}, "axis": null}, "x2": {"datum": 200.5}, "y": {"datum": 1.0711, "type": "quantitative", "scale": {"domain": [0, 1.2], "nice": false, "zero": false}, "axis": null}}},
        {"data": {"values": [{}]}, "mark": {"type": "text", "text": "√", "align": "left", "baseline": "alphabetic", "fontSize": 16, "fontWeight": "normal"},
          "encoding": {"x": {"datum": 153.2, "type": "quantitative", "scale": {"domain": [0, 359], "nice": false, "zero": false}, "axis": null}, "y": {"datum": 0.9835, "type": "quantitative", "scale": {"domain": [0, 1.2], "nice": false, "zero": false}, "axis": null}}},
        {"data": {"values": [{}]}, "mark": {"type": "text", "text": "s", "align": "left", "baseline": "alphabetic", "fontSize": 13.5},
          "encoding": {"x": {"datum": 167.8, "type": "quantitative", "scale": {"domain": [0, 359], "nice": false, "zero": false}, "axis": null}, "y": {"datum": 0.9874, "type": "quantitative", "scale": {"domain": [0, 1.2], "nice": false, "zero": false}, "axis": null}}},
        {"data": {"values": [{}]}, "mark": {"type": "text", "text": "NN", "align": "left", "baseline": "alphabetic", "fontSize": 9},
          "encoding": {"x": {"datum": 177.8, "type": "quantitative", "scale": {"domain": [0, 359], "nice": false, "zero": false}, "axis": null}, "y": {"datum": 0.98, "type": "quantitative", "scale": {"domain": [0, 1.2], "nice": false, "zero": false}, "axis": null}}},
        {"data": {"values": [{}]}, "mark": {"type": "text", "text": "= 200 GeV", "align": "left", "baseline": "alphabetic", "fontSize": 13.5},
          "encoding": {"x": {"datum": 203.5, "type": "quantitative", "scale": {"domain": [0, 359], "nice": false, "zero": false}, "axis": null}, "y": {"datum": 0.9874, "type": "quantitative", "scale": {"domain": [0, 1.2], "nice": false, "zero": false}, "axis": null}}},
        {"data": {"values": [{}]}, "mark": {"type": "rule", "color": "black", "strokeWidth": 1.3},
          "encoding": {"x": {"datum": 167.8, "type": "quantitative", "scale": {"domain": [0, 359], "nice": false, "zero": false}, "axis": null}, "x2": {"datum": 200.5}, "y": {"datum": 1.0116, "type": "quantitative", "scale": {"domain": [0, 1.2], "nice": false, "zero": false}, "axis": null}}},
        {"data": {"values": [{}]}, "mark": {"type": "text", "text": "<p", "align": "left", "baseline": "alphabetic", "fontSize": 20, "angle": 270},
          "encoding": {"x": {"datum": -43.6, "type": "quantitative", "scale": {"domain": [0, 359], "nice": false, "zero": false}, "axis": null}, "y": {"datum": 0.7664, "type": "quantitative", "scale": {"domain": [0, 1.2], "nice": false, "zero": false}, "axis": null}}},
        {"data": {"values": [{}]}, "mark": {"type": "text", "text": "T", "align": "left", "baseline": "alphabetic", "fontSize": 13, "angle": 270},
          "encoding": {"x": {"datum": -38.0, "type": "quantitative", "scale": {"domain": [0, 359], "nice": false, "zero": false}, "axis": null}, "y": {"datum": 0.8414, "type": "quantitative", "scale": {"domain": [0, 1.2], "nice": false, "zero": false}, "axis": null}}},
        {"data": {"values": [{}]}, "mark": {"type": "text", "text": ">", "align": "left", "baseline": "alphabetic", "fontSize": 20, "angle": 270},
          "encoding": {"x": {"datum": -43.6, "type": "quantitative", "scale": {"domain": [0, 359], "nice": false, "zero": false}, "axis": null}, "y": {"datum": 0.8719, "type": "quantitative", "scale": {"domain": [0, 1.2], "nice": false, "zero": false}, "axis": null}}},
        {"data": {"values": [{}]}, "mark": {"type": "text", "text": "[GeV/c]", "align": "left", "baseline": "alphabetic", "fontSize": 18, "angle": 270},
          "encoding": {"x": {"datum": -43.6, "type": "quantitative", "scale": {"domain": [0, 359], "nice": false, "zero": false}, "axis": null}, "y": {"datum": 1.0242, "type": "quantitative", "scale": {"domain": [0, 1.2], "nice": false, "zero": false}, "axis": null}}},
        {"data": {"values": [{}]}, "mark": {"type": "text", "text": "N", "align": "left", "baseline": "alphabetic", "fontSize": 19},
          "encoding": {"x": {"datum": 305.3, "type": "quantitative", "scale": {"domain": [0, 359], "nice": false, "zero": false}, "axis": null}, "y": {"datum": -0.1242, "type": "quantitative", "scale": {"domain": [0, 1.2], "nice": false, "zero": false}, "axis": null}}},
        {"data": {"values": [{}]}, "mark": {"type": "text", "text": "part", "align": "left", "baseline": "alphabetic", "fontSize": 13},
          "encoding": {"x": {"datum": 325.4, "type": "quantitative", "scale": {"domain": [0, 359], "nice": false, "zero": false}, "axis": null}, "y": {"datum": -0.1399, "type": "quantitative", "scale": {"domain": [0, 1.2], "nice": false, "zero": false}, "axis": null}}}
      ]
    }
  ]
}
